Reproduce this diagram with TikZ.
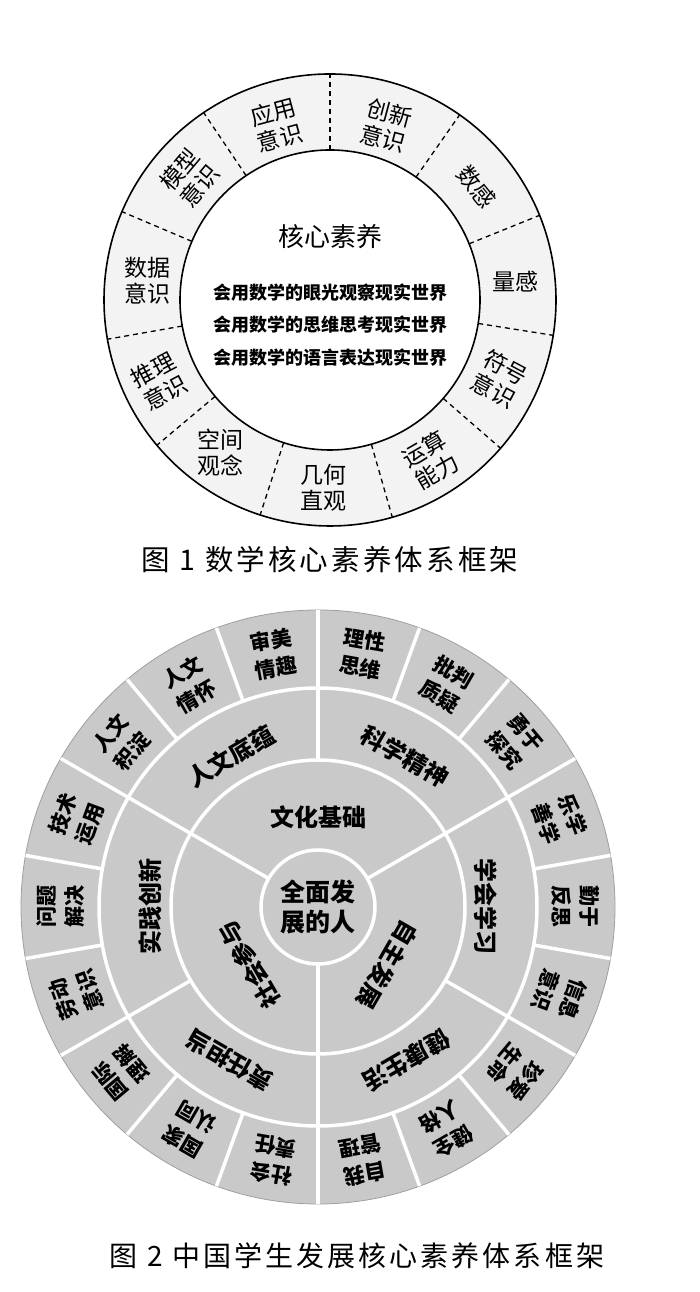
\documentclass[tikz,border=0pt]{standalone}
\usepackage{fontspec}
\setmainfont{Noto Sans CJK SC}
\newfontfamily\capfont[LetterSpace=11]{Noto Sans CJK SC}
\usetikzlibrary{positioning}
\definecolor{ringgray}{RGB}{243,243,243}
\definecolor{wheelgray}{RGB}{201,201,201}
\tikzset{
    % figure 1: outer ring of eleven items, dashed dividers
    seg/.style={align=center, inner sep=0pt, font=\fontsize{23}{26}\selectfont},
    rim/.style={line width=1.6pt},
    divide/.style={dashed, line width=1.3pt, dash pattern=on 5pt off 4pt},
    % figure 2: grey wheel with white dividers
    petal/.style={align=center, inner sep=0pt, font=\bfseries\fontsize{21}{28}\selectfont},
    areatext/.style={inner sep=0pt, font=\bfseries\fontsize{24}{28}\selectfont},
    cutline/.style={white, line width=3.5pt},
    % captions under each figure
    captext/.style={inner sep=0pt, font=\capfont\fontsize{28.5}{30}\selectfont},
}

\begin{document}
\begin{tikzpicture}[x=1pt, y=1pt]
    \useasboundingbox (0,0) rectangle (700,1292);

    % ===== figure 1: mathematics core literacy =====
    \begin{scope}[shift={(330,992)}]
        \fill[ringgray, even odd rule] (0,0) circle (226) (0,0) circle (150);
        \draw[rim] (0,0) circle (226);
        \draw[rim] (0,0) circle (150);

        \draw[divide] (90:150) -- (90:226);
        \draw[divide] (55:150) -- (55:226);
        \draw[divide] (22:150) -- (22:226);
        \draw[divide] (-9:150) -- (-9:226);
        \draw[divide] (-41:150) -- (-41:226);
        \draw[divide] (-74:150) -- (-74:226);
        \draw[divide] (-108:150) -- (-108:226);
        \draw[divide] (-140:150) -- (-140:226);
        \draw[divide] (-170:150) -- (-170:226);
        \draw[divide] (157:150) -- (157:226);
        \draw[divide] (124:150) -- (124:226);

        \node[seg, rotate=15]  (yingyong)  at (107:183)    {应用\\意识};
        \node[seg, rotate=-15] (chuangxin) at (72:183)     {创新\\意识};
        \node[seg, rotate=-51] (shugan)    at (37.5:185)   {数感};
        \node[seg]             (lianggan)  at (5.6:186)    {量感};
        \node[seg, rotate=-28] (fuhao)     at (-25:187)    {符号\\意识};
        \node[seg, rotate=30]  (yunsuan)   at (-58:189)    {运算\\能力};
        \node[seg]             (jihe)      at (-92:188)    {几何\\直观};
        \node[seg]             (kongjian)  at (-125.7:188) {空间\\观念};
        \node[seg, rotate=28]  (tuili)     at (-154.6:189) {推理\\意识};
        \node[seg]             (shuju)     at (174:184)    {数据\\意识};
        \node[seg, rotate=50]  (moxing)    at (139:186)    {模型\\意识};

        \node[font=\fontsize{26}{28}\selectfont] (hexin) at (0,63) {核心素养};
        \node[font=\bfseries\fontsize{18}{20}\selectfont] (look)  at (0,7)   {会用数学的眼光观察现实世界};
        \node[font=\bfseries\fontsize{18}{20}\selectfont] (think) at (0,-25) {会用数学的思维思考现实世界};
        \node[font=\bfseries\fontsize{18}{20}\selectfont] (speak) at (0,-58) {会用数学的语言表达现实世界};
    \end{scope}

    \node[captext] (cap1) at (330,732) {图 1 数学核心素养体系框架};

    % ===== figure 2: student development core literacy =====
    \begin{scope}[shift={(318,385)}]
        \fill[wheelgray] (0,0) circle (297);
        \draw[gray!75, line width=0.8pt] (0,0) circle (297);

        % white rings
        \draw[cutline] (0,0) circle (57);
        \draw[cutline] (0,0) circle (147);
        \draw[cutline] (0,0) circle (219);

        % dividers through all rings
        \draw[cutline] (30:57) -- (30:297);
        \draw[cutline] (150:57) -- (150:297);
        \draw[cutline] (270:57) -- (270:297);
        % dividers of the six areas
        \draw[cutline] (90:147) -- (90:297);
        \draw[cutline] (-30:147) -- (-30:297);
        \draw[cutline] (-150:147) -- (-150:297);
        % dividers of the eighteen points
        \foreach \a in {10,50,70,110,130,170,190,230,250,290,310,350}
            \draw[cutline] (\a:219) -- (\a:297);

        \node[areatext, align=center, font=\bfseries\fontsize{25}{30}\selectfont] (whole) at (0,0) {全面发\\展的人};

        \node[areatext]              (wenhua) at (90:90)  {文化基础};
        \node[areatext, rotate=-120] (zizhu)  at (-40:90) {自主发展};
        \node[areatext, rotate=120]  (shehui) at (-140:90) {社会参与};

        \node[areatext, rotate=30]   (renwen)   at (120:174) {人文底蕴};
        \node[areatext, rotate=-30]  (kexue)    at (60:174)  {科学精神};
        \node[areatext, rotate=-90]  (xuehui)   at (0:168)   {学会学习};
        \node[areatext, rotate=-150] (jiankang) at (-60:177) {健康生活};
        \node[areatext, rotate=150]  (zeren)    at (-120:177) {责任担当};
        \node[areatext, rotate=90]   (shijian)  at (180:168) {实践创新};

        \node[petal, rotate=10]   (shenmei)  at (100:257)  {审美\\情趣};
        \node[petal, rotate=-10]  (lixing)   at (80:257)   {理性\\思维};
        \node[petal, rotate=-30]  (pipan)    at (60:257)   {批判\\质疑};
        \node[petal, rotate=-50]  (yongyu)   at (40:257)   {勇于\\探究};
        \node[petal, rotate=-70]  (lexue)    at (20:257)   {乐学\\善学};
        \node[petal, rotate=-90]  (qinyu)    at (0:257)    {勤于\\反思};
        \node[petal, rotate=-110] (xinxi)    at (-20:257)  {信息\\意识};
        \node[petal, rotate=-130] (zhenai)   at (-40:257)  {珍爱\\生命};
        \node[petal, rotate=-150] (jianquan) at (-60:257)  {健全\\人格};
        \node[petal, rotate=-170] (ziwo)     at (-80:257)  {自我\\管理};
        \node[petal, rotate=170]  (zrdd)     at (-100:257) {社会\\责任};
        \node[petal, rotate=150]  (guojia)   at (-120:257) {国家\\认同};
        \node[petal, rotate=130]  (guoji)    at (-140:257) {国际\\理解};
        \node[petal, rotate=110]  (laodong)  at (-160:257) {劳动\\意识};
        \node[petal, rotate=90]   (wenti)    at (180:257)  {问题\\解决};
        \node[petal, rotate=70]   (jishu)    at (160:257)  {技术\\运用};
        \node[petal, rotate=50]   (jidian)   at (140:257)  {人文\\积淀};
        \node[petal, rotate=30]   (qinghuai) at (120:257)  {人文\\情怀};
    \end{scope}

    \node[captext, font=\capfont\fontsize{28}{30}\selectfont] (cap2) at (357,36) {图 2 中国学生发展核心素养体系框架};
\end{tikzpicture}
\end{document}
